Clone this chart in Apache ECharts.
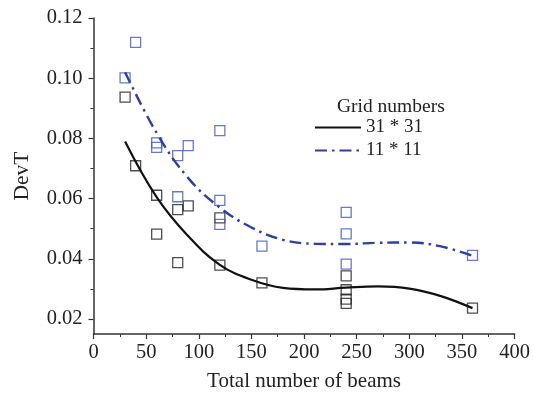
<!DOCTYPE html>
<html>
<head>
<meta charset="utf-8">
<script src="https://cdn.jsdelivr.net/npm/echarts@6/dist/echarts.min.js"></script>
<style>
  html, body { margin: 0; padding: 0; background: #fff; }
  #main { width: 533px; height: 399px; }
</style>
</head>
<body>
<div id="main"></div>
<script>
// measured points, grid 31 * 31 (black) and 11 * 11 (blue)
const black_pts = [
  [30, 0.0937], [40, 0.0709], [60, 0.0611], [60, 0.0482], [80, 0.0563],
  [80, 0.0387], [90, 0.0576], [120, 0.0536], [120, 0.0379], [160, 0.0320],
  [240, 0.0343], [240, 0.0297], [240, 0.0266], [240, 0.0252], [360, 0.0236]
];
const blue_pts = [
  [30, 0.1001], [40, 0.1119], [60, 0.0785], [60, 0.0770], [80, 0.0743],
  [80, 0.0606], [90, 0.0776], [120, 0.0826], [120, 0.0594], [120, 0.0514],
  [160, 0.0442], [240, 0.0554], [240, 0.0483], [240, 0.0382], [360, 0.0411]
];

// fitted curves (every 30 beams)
const fit_x = [30, 60, 90, 120, 150, 180, 210, 240, 270, 300, 330, 360];
const fit_black = [0.0790, 0.0605, 0.0475, 0.0380, 0.0330, 0.0303, 0.0298, 0.0304, 0.0308, 0.0301, 0.0276, 0.0236];
const fit_blue = [0.1020, 0.0818, 0.0668, 0.0570, 0.0504, 0.0463, 0.0450, 0.0449, 0.0453, 0.0454, 0.0441, 0.0410];

const x_ticks = [0, 50, 100, 150, 200, 250, 300, 350, 400];
const y_ticks = [0.02, 0.04, 0.06, 0.08, 0.10, 0.12];
const y_minor = [0.03, 0.05, 0.07, 0.09, 0.11];

const BLACK = "#111111";
const BLUE = "#2e3f9e";
const SQ_BLUE = "#4457b8";
const FONT = "Liberation Serif";
const AX = "#333";

const chart = echarts.init(document.getElementById("main"));

const option = {
  backgroundColor: "#fff",
  animation: false,
  grid: { left: 93.5, right: 15.5, top: 18, bottom: 65 },
  title: {
    text: "Grid numbers",
    left: 332, top: 92,
    textStyle: { fontFamily: FONT, fontSize: 19.5, fontWeight: "normal", color: "#222" }
  },
  legend: {
    data: ["31 * 31", "11 * 11"],
    orient: "vertical",
    left: 309, top: 113,
    itemWidth: 46, itemHeight: 14, itemGap: 4,
    itemStyle: { opacity: 0 },
    textStyle: { fontFamily: FONT, fontSize: 19, color: "#222" }
  },
  xAxis: {
    type: "value",
    min: 0, max: 400, interval: 50,
    name: "Total number of beams",
    nameLocation: "middle",
    nameGap: 37,
    nameTextStyle: { fontFamily: FONT, fontSize: 21, color: "#222" },
    axisLine: { show: true, onZero: false, lineStyle: { color: AX, width: 1.5 } },
    axisTick: { show: true, length: 5, lineStyle: { color: AX, width: 1.2 } },
    minorTick: { show: true, splitNumber: 2, length: 3, lineStyle: { color: AX, width: 1 } },
    splitLine: { show: false },
    axisLabel: {
      fontFamily: FONT, fontSize: 20.5, color: "#222", margin: 8,
      formatter: v => (x_ticks.includes(v) ? String(v) : "")
    }
  },
  yAxis: [
    {
      type: "value",
      min: 0.015, max: 0.12,
      name: "DevT",
      nameLocation: "middle",
      nameGap: 60,
      nameTextStyle: { fontFamily: FONT, fontSize: 21.5, color: "#222" },
      axisLine: { show: true, onZero: false, lineStyle: { color: AX, width: 1.5 } },
      axisTick: { show: true, length: 5, customValues: y_ticks, lineStyle: { color: AX, width: 1.2 } },
      splitLine: { show: false },
      axisLabel: {
        fontFamily: FONT, fontSize: 20.5, color: "#222", margin: 11,
        customValues: y_ticks,
        formatter: v => v.toFixed(2)
      }
    },
    {
      // minor ticks only
      type: "value",
      position: "left",
      min: 0.015, max: 0.12,
      axisLine: { show: false },
      axisTick: { show: true, length: 3, customValues: y_minor, lineStyle: { color: AX, width: 1 } },
      axisLabel: { show: false },
      splitLine: { show: false }
    }
  ],
  series: [
    {
      name: "31 * 31 pts", type: "scatter", data: black_pts,
      symbol: "rect", symbolSize: 10,
      itemStyle: { color: "rgba(255,255,255,0)", borderColor: "#222", borderWidth: 1.3 }
    },
    {
      name: "11 * 11 pts", type: "scatter", data: blue_pts,
      symbol: "rect", symbolSize: 10,
      itemStyle: { color: "rgba(255,255,255,0)", borderColor: SQ_BLUE, borderWidth: 1.3 }
    },
    {
      name: "31 * 31", type: "line", smooth: 0.4, symbol: "none",
      data: fit_x.map((x, i) => [x, fit_black[i]]),
      lineStyle: { color: BLACK, width: 2.2 },
      itemStyle: { color: BLACK }
    },
    {
      name: "11 * 11", type: "line", smooth: 0.4, symbol: "none",
      data: fit_x.map((x, i) => [x, fit_blue[i]]),
      lineStyle: { color: BLUE, width: 2.4, type: [12, 5, 2.5, 5] },
      itemStyle: { color: BLUE }
    }
  ]
};

chart.setOption(option);
</script>
</body>
</html>
